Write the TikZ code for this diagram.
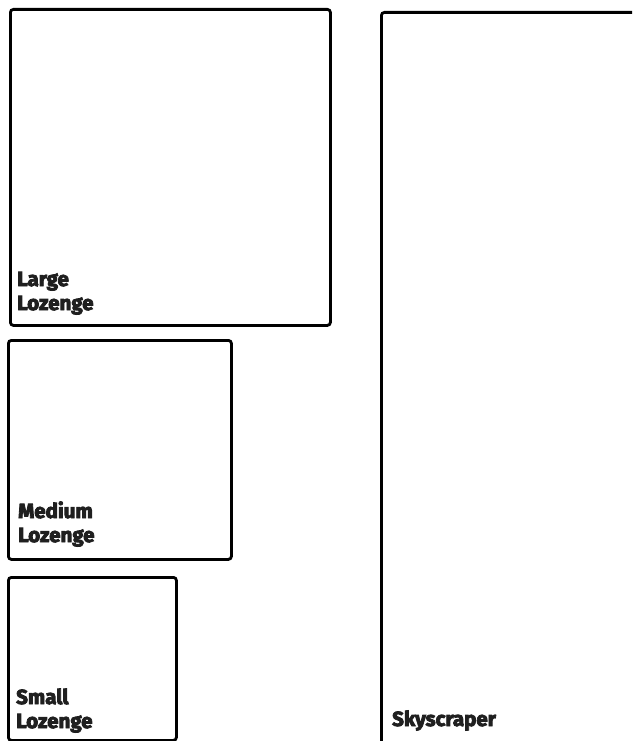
\documentclass[tikz,border=0pt]{standalone}
\usepackage{fontspec}
\setmainfont{Fira Sans}[BoldFont={Fira Sans Bold},BoldFeatures={FakeBold=4}]
\usetikzlibrary{positioning}

\begin{document}
\begin{tikzpicture}[x=1pt,y=-1pt,
  every node/.style={font=\fontsize{20.5}{24}\selectfont\bfseries},
  tile/.style={draw,line width=2.8pt,rounded corners=3pt,inner sep=0pt,anchor=north west},
  tag/.style={align=left,anchor=south west,inner sep=0pt,text=black!88}]
  \useasboundingbox (0,0) rectangle (632,741);
  \begin{scope}
    \clip (0,0) rectangle (632,741);
    \node[tile,minimum width=320,minimum height=316] (large) at (9,8) {};
    \node[tile,minimum width=223,minimum height=219] (medium) at (7,339) {};
    \node[tile,minimum width=168,minimum height=163] (small) at (7,576) {};
    \node[tile,minimum width=290,minimum height=780] (sky) at (380,11) {};
  \end{scope}
  \node[tag] at ([xshift=8,yshift=12]large.south west) {Large\\Lozenge};
  \node[tag] at ([xshift=11,yshift=14]medium.south west) {Medium\\Lozenge};
  \node[tag] at ([xshift=9,yshift=9]small.south west) {Small\\Lozenge};
  \node[tag,anchor=base west] at (392,726) {Skyscraper};
\end{tikzpicture}
\end{document}
